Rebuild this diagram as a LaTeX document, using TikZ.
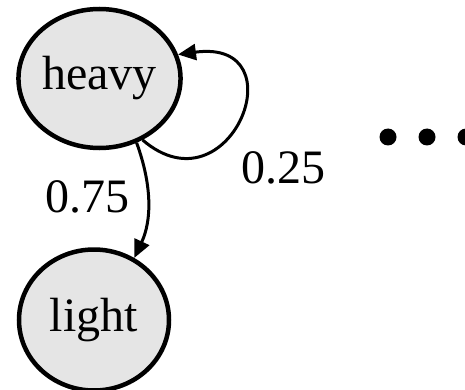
\documentclass[tikz,border=0pt]{standalone}
\usepackage{fontspec}
\setmainfont{Liberation Serif}
\usetikzlibrary{arrows.meta,shapes.geometric}
\begin{document}
\begin{tikzpicture}[x=1pt,y=-1pt,
  state/.style={ellipse,draw=black,line width=4.5pt,fill=gray!20,minimum width=147pt,minimum height=139pt,inner sep=0pt,font=\fontsize{48}{50}\selectfont},
  lbl/.style={font=\fontsize{48}{50}\selectfont,inner sep=0pt},
  edge/.style={line width=3pt,-{Triangle[length=18pt,width=16pt]}},
  dot/.style={circle,fill=black,minimum size=17pt,inner sep=0pt}]
\useasboundingbox (0,0) rectangle (465,390);
\node[state] (heavy) at (99.5,78.5) {heavy};
\node[state,minimum width=150pt,minimum height=141pt] (light) at (94,320) {light};
\draw[edge] (heavy.-55) .. controls (230,215) and (300,38) .. (heavy.17);
\draw[edge] (heavy.-60) .. controls (152,185) and (152,220) .. (light.57);
\node[lbl] (p25) at (283,168) {0.25};
\node[lbl] (p75) at (87,197) {0.75};
\node[dot] (d1) at (388,137) {};
\node[dot] (d2) at (427,137) {};
\node[dot] (d3) at (466,137) {};
\end{tikzpicture}
\end{document}
